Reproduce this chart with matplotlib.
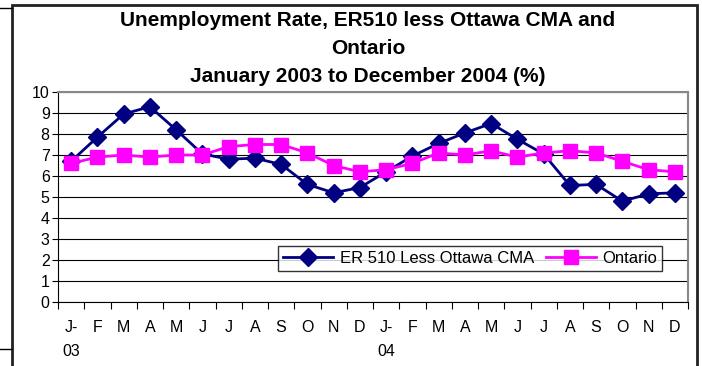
import matplotlib.pyplot as plt
from matplotlib.lines import Line2D
from matplotlib.patches import Rectangle

plt.rcParams['font.family'] = ['Liberation Sans', 'DejaVu Sans']

months = ["J-\n03", "F", "M", "A", "M", "J", "J", "A", "S", "O", "N", "D",
          "J-\n04", "F", "M", "A", "M", "J", "J", "A", "S", "O", "N", "D"]
er510 = [6.7, 7.85, 8.95, 9.3, 8.2, 7.05, 6.8, 6.85, 6.55, 5.6, 5.2, 5.45,
         6.2, 6.95, 7.55, 8.05, 8.5, 7.75, 7.05, 5.55, 5.6, 4.8, 5.15, 5.2]
ontario = [6.6, 6.9, 7.0, 6.9, 7.0, 7.0, 7.4, 7.5, 7.5, 7.1, 6.5, 6.2,
           6.3, 6.6, 7.1, 7.0, 7.2, 6.9, 7.1, 7.2, 7.1, 6.7, 6.3, 6.2]

W, H = 702, 366
fig = plt.figure(figsize=(W / 100, H / 100), dpi=100)

# outer chart frame (partially cropped)
fig.add_artist(Rectangle((12 / W, -0.05), 685 / W, (H - 5) / H + 0.05,
                         transform=fig.transFigure, fill=False,
                         edgecolor='#222222', linewidth=2))
fig.add_artist(Line2D([0, 12 / W], [1 - 8 / H, 1 - 8 / H], transform=fig.transFigure,
                      color='black', linewidth=1))
fig.add_artist(Line2D([0, 12 / W], [1 - 349 / H, 1 - 349 / H], transform=fig.transFigure,
                      color='black', linewidth=1))

ax = fig.add_axes([58 / W, (H - 302) / H, 630 / W, 210 / H])
x = list(range(len(months)))

ax.plot(x, er510, color='#000080', marker='D', markersize=9, linewidth=2,
        label='ER 510 Less Ottawa CMA', zorder=3)
ax.plot(x, ontario, color='#FF00FF', marker='s', markersize=10.5, linewidth=2,
        label='Ontario', zorder=3)

ax.set_xlim(-0.5, len(months) - 0.5)
ax.set_ylim(0, 10)
ax.set_yticks(range(0, 11))
ax.tick_params(axis='y', labelsize=11.5, length=4, direction='out', pad=2)

ax.set_xticks([i - 0.5 for i in range(len(months) + 1)])
ax.set_xticklabels([])
ax.set_xticks(x, minor=True)
ax.set_xticklabels(months, minor=True, fontsize=11.5, linespacing=1.75, va='top')
ax.tick_params(axis='x', which='major', length=5, direction='out')
ax.tick_params(axis='x', which='minor', length=0, pad=13)

ax.grid(axis='y', color='black', linewidth=0.8)
ax.set_axisbelow(True)
for side in ['top', 'right']:
    ax.spines[side].set_color('#888888')
    ax.spines[side].set_linewidth(1.5)

leg = ax.legend(loc='lower right', bbox_to_anchor=(0.959, 0.148), ncol=2,
                fontsize=12, frameon=True, fancybox=False, edgecolor='black',
                handlelength=3.0, columnspacing=0.7, borderpad=0.3,
                handletextpad=0.4, borderaxespad=0)
leg.get_frame().set_linewidth(1)
leg.set_zorder(5)

for txt, yy in [("Unemployment Rate, ER510 less Ottawa CMA and", 20),
                ("Ontario", 48),
                ("January 2003 to December 2004 (%)", 77)]:
    fig.text(368 / W, 1 - yy / H, txt, ha='center', va='center',
             fontsize=15, fontweight='bold')

fig.savefig('out.png', dpi=100)
